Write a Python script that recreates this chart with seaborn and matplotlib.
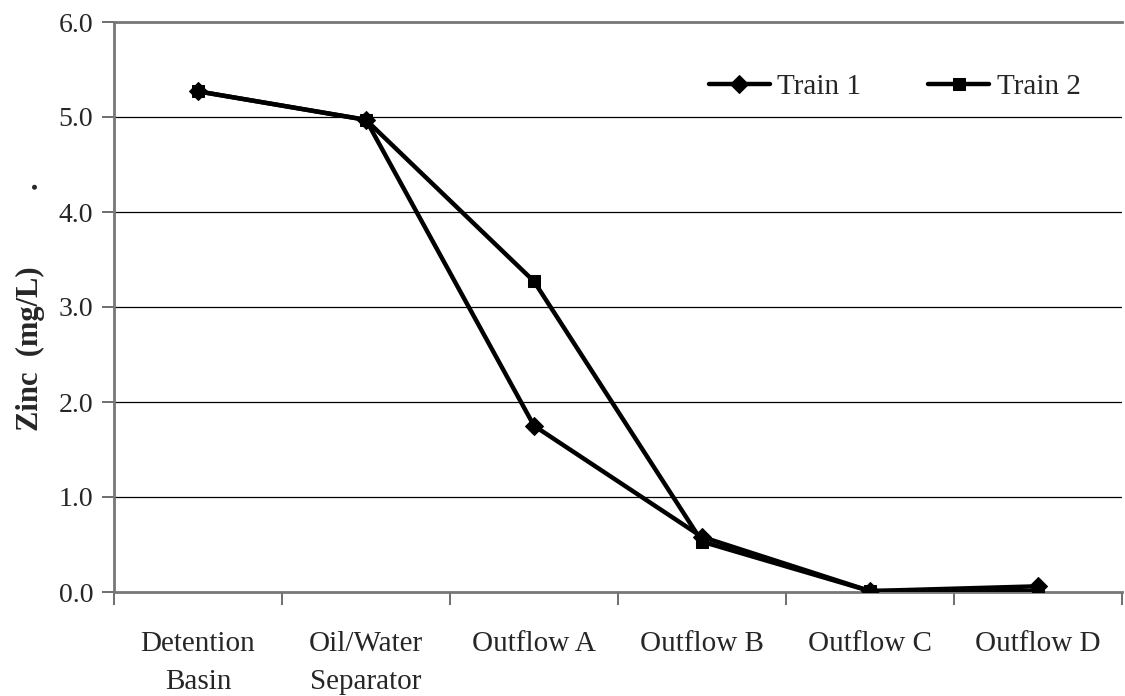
import pandas as pd
import numpy as np
import matplotlib
matplotlib.use("Agg")
import matplotlib.pyplot as plt
import seaborn as sns
from matplotlib.ticker import FixedLocator

# data
stages = ["Detention\nBasin", "Oil/Water\nSeparator", "Outflow A", "Outflow B", "Outflow C", "Outflow D"]
train1 = [5.27, 4.97, 1.75, 0.58, 0.01, 0.06]
train2 = [5.27, 4.97, 3.27, 0.53, 0.01, 0.01]

df = pd.DataFrame({"stage": stages * 2,
                   "zinc": train1 + train2,
                   "series": ["Train 1"] * 6 + ["Train 2"] * 6})

sns.set_style("white")
plt.rcParams['font.family'] = ['Liberation Serif', 'DejaVu Serif']

fig = plt.figure(figsize=(11.25, 6.96), dpi=100)
ax = fig.add_axes([114 / 1125, 1 - 592 / 696, 1008 / 1125, 570 / 696])

sns.lineplot(data=df[df.series == "Train 2"], x="stage", y="zinc", ax=ax, color="black",
             linewidth=3.2, marker="s", markersize=8, markeredgecolor="black", label="Train 2",
             sort=False, zorder=3)
sns.lineplot(data=df[df.series == "Train 1"], x="stage", y="zinc", ax=ax, color="black",
             linewidth=3.2, marker="D", markersize=9, markeredgecolor="black", label="Train 1",
             sort=False, zorder=4)

ax.set_xlim(-0.5, 5.5)
ax.set_ylim(0, 6)
ax.set_yticks(np.arange(0, 6.01, 1.0))
ax.set_yticklabels([f"{v:.1f}" for v in np.arange(0, 6.01, 1.0)], fontsize=20)
ax.set_xticks(range(len(stages)))
ax.set_xticklabels(stages, fontsize=21, linespacing=1.6)
ax.tick_params(axis="x", which="major", length=0, pad=28)
ax.xaxis.set_minor_locator(FixedLocator(np.arange(-0.5, 5.6, 1.0)))
ax.tick_params(axis="x", which="minor", length=9, width=1.2, color="#555555", direction="out", bottom=True)
ax.tick_params(axis="y", length=9, width=1.2, color="#555555", direction="out", left=True, pad=6)

for y in range(1, 6):
    ax.axhline(y, color="black", linewidth=0.9, zorder=1)

for side in ["left", "bottom", "top"]:
    ax.spines[side].set_color("#777777")
    ax.spines[side].set_linewidth(2)
ax.spines["right"].set_visible(False)

ax.set_xlabel("")
ax.set_ylabel("Zinc  (mg/L)          .", fontsize=22, fontweight="bold", labelpad=10)

handles, labels = ax.get_legend_handles_labels()
order = [labels.index("Train 1"), labels.index("Train 2")]
ax.legend([handles[i] for i in order], [labels[i] for i in order], ncol=2, frameon=False,
          fontsize=21, loc="upper right", bbox_to_anchor=(0.985, 0.955), handlelength=2.1,
          handletextpad=0.25, columnspacing=2.3)

plt.savefig("out.png", dpi=100)
